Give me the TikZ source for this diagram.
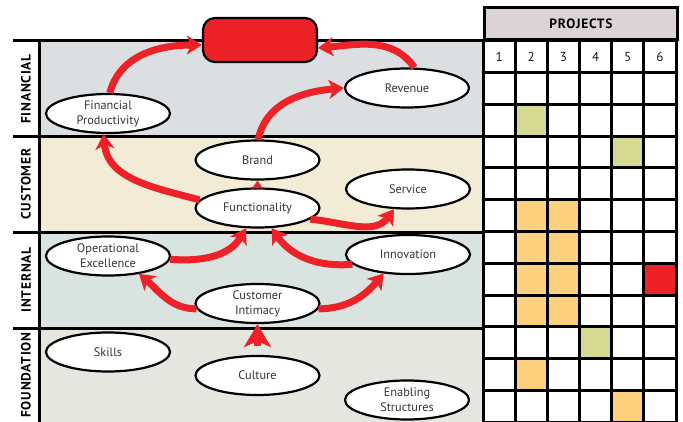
\documentclass[tikz,border=0pt]{standalone}
\usepackage{fontspec}
\setmainfont{PT Sans}
\usetikzlibrary{shapes.geometric,arrows.meta}
\definecolor{redx}{HTML}{ED2128}
\definecolor{finc}{HTML}{DCDFE2}
\definecolor{custc}{HTML}{F2EBD6}
\definecolor{intc}{HTML}{D9E3DF}
\definecolor{fndc}{HTML}{E5E6E0}
\definecolor{headc}{HTML}{DCD3D6}
\definecolor{greenc}{HTML}{D4DA92}
\definecolor{orangec}{HTML}{FDD07E}
\definecolor{txtc}{HTML}{353535}
\begin{document}
\begin{tikzpicture}[x=1pt,y=1pt,
  ell/.style={ellipse,draw=black,line width=2.2pt,fill=white,minimum width=124pt,minimum height=39pt,inner sep=0pt,align=center,text=txtc,font=\fontsize{12.3}{15}\selectfont},
  flow/.style={draw=redx,line width=7pt,-{Stealth[length=15pt,width=19pt,inset=4pt]}},
  side/.style={rotate=90,font=\fontsize{13.5}{14}\selectfont\addfontfeatures{LetterSpace=6}\bfseries,text=black},
  band/.style={line width=3pt},
  gridl/.style={line width=3pt,black},
  num/.style={font=\fontsize{13}{15}\selectfont,text=black!90}
]
\useasboundingbox (0,0) rectangle (683,-422);
\clip (0,0) rectangle (683,-422);
% bands
\fill[finc] (39,-41) rectangle (483,-137);
\fill[custc] (39,-137) rectangle (483,-232.5);
\fill[intc] (39,-232.5) rectangle (483,-328);
\fill[fndc] (39,-328) rectangle (483,-426);
\draw[band] (13,-41) -- (483,-41);
\draw[band] (13,-137) -- (483,-137);
\draw[band] (13,-232.5) -- (483,-232.5);
\draw[band] (13,-328) -- (483,-328);
\draw[band] (39,-41) -- (39,-426);
% side labels
\node[side] (lfin) at (26,-89) {FINANCIAL};
\node[side] (lcus) at (26,-184) {CUSTOMER};
\node[side] (lint) at (26,-280) {INTERNAL};
\node[side] (lfnd) at (26,-375) {FOUNDATION};
% grid
\fill[white] (483,-41) rectangle (676,-426);
\foreach \c/\r/\col in {2/2/greenc,5/3/greenc,2/5/orangec,3/5/orangec,2/6/orangec,3/6/orangec,2/7/orangec,3/7/orangec,6/7/redx,2/8/orangec,3/8/orangec,4/9/greenc,2/10/orangec,5/11/orangec}
  \fill[\col] ({483+32.1667*(\c-1)},{-41-31.75*\r}) rectangle ++(32.1667,-31.75);
\node[draw=black,line width=3pt,fill=headc,minimum width=193pt,minimum height=31.5pt,inner sep=0pt,anchor=south west,font=\fontsize{13.5}{14}\selectfont\addfontfeatures{LetterSpace=6}\bfseries] (proj) at (483,-41) {PROJECTS};
\foreach \c in {0,...,6}
  \draw[gridl] ({483+32.1667*\c},-41) -- ({483+32.1667*\c},-426);
\foreach \r in {0,...,12}
  \draw[gridl] (481.5,{-41-31.75*\r}) -- (677.5,{-41-31.75*\r});
\foreach \c in {1,...,6}
  \node[num] (n\c) at ({483+32.1667*(\c-0.5)},-57) {\c};
% top box
\node[draw=black,line width=2.2pt,fill=redx,rounded corners=12pt,minimum width=114pt,minimum height=44pt,inner sep=0pt] (box) at (260,-40) {};
% ellipses
\node[ell] (fp) at (108,-113.5) {Financial\\Productivity};
\node[ell] (rev) at (407,-88) {Revenue};
\node[ell] (brand) at (257.5,-160) {Brand};
\node[ell] (func) at (257.5,-208) {Functionality};
\node[ell] (serv) at (408,-189) {Service};
\node[ell] (opex) at (108,-256) {Operational\\Excellence};
\node[ell] (inti) at (257.5,-303.5) {Customer\\Intimacy};
\node[ell] (innov) at (408,-254.5) {Innovation};
\node[ell] (skills) at (108,-352) {Skills};
\node[ell] (cult) at (257.5,-375.5) {Culture};
\node[ell] (enab) at (407,-400) {Enabling\\Structures};
% arrows
\draw[flow] (fp.85) to[out=75,in=180] ([yshift=-5pt]box.west);
\draw[flow] (rev.70) to[out=125,in=5] ([yshift=-8pt]box.east);
\draw[flow] (brand.88) to[out=78,in=185] (rev.west);
\draw[flow] (func.172) to[out=165,in=-85] (fp.258);
\draw[draw=redx,line width=7pt,-{Stealth[length=8pt,width=11pt,inset=1pt]}] (func.north) -- (brand.south);
\draw[flow] (func.-12) to[out=-5,in=235] (serv.235);
\draw[flow] (opex.-3) to[out=-5,in=240] (func.240);
\draw[flow] (innov.190) to[out=185,in=-55] (func.305);
\draw[flow] (inti.185) to[out=180,in=-40] (opex.-30);
\draw[flow] (inti.-5) to[out=0,in=230] (innov.218);
\draw[draw=redx,line width=7pt,shorten <=9pt,-{Stealth[length=23pt,width=27pt,inset=6pt]}] (cult.north) -- (inti.south);
\end{tikzpicture}
\end{document}
